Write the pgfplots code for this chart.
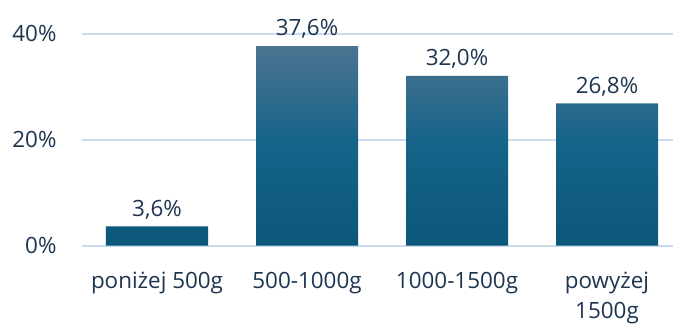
\documentclass[border=0pt]{standalone}
\usepackage{pgfplots}
\pgfplotsset{compat=1.18}
\usepackage{fontspec}
\setmainfont{Open Sans}
\definecolor{bartop}{HTML}{4B7390}
\definecolor{barmid}{HTML}{146389}
\definecolor{barbot}{HTML}{0C5779}
\definecolor{gridc}{HTML}{CADCF0}
\definecolor{txt}{HTML}{1D3550}
% vertical gradient for the bars: light at the top, darkening towards the base
\pgfdeclareverticalshading{barshade}{100bp}{color(0bp)=(barbot); color(25bp)=(barbot);
  color(50bp)=(barmid); color(75bp)=(bartop); color(100bp)=(bartop)}
\begin{document}
\begin{tikzpicture}
\begin{axis}[
  scale only axis,
  width=591bp, height=212bp,
  xmin=-0.5, xmax=3.44,
  ymin=0, ymax=40,
  ytick={0,20,40},
  yticklabel={\pgfmathprintnumber{\tick}\%},
  /pgf/number format/assume math mode=true,
  xtick={0,1,2,3},
  xticklabels={poniżej 500g,500-1000g,1000-1500g,{powyżej\\1500g}},
  xticklabel style={align=center, yshift=-19bp},
  yticklabel style={xshift=-22bp},
  ymajorgrids,
  grid style={gridc, line width=2bp},
  axis line style={draw=none},
  tick style={draw=none},
  ticklabel style={font=\fontsize{22.5}{30}\selectfont, text=txt},
  ybar, bar width=102bp,
  clip=false,
  nodes near coords={\pgfmathprintnumber[fixed,fixed zerofill,precision=1,use comma]{\pgfplotspointmeta}\%},
  nodes near coords style={font=\fontsize{22.5}{26}\selectfont, text=txt, yshift=4bp},
]
\addplot[draw=none, shading=barshade]
  coordinates {(0,3.6) (1,37.6) (2,32.0) (3,26.8)};
\end{axis}
\pgfresetboundingbox
\path[use as bounding box] (-82bp,-78.5bp) rectangle (591bp,245.5bp);
\end{tikzpicture}
\end{document}
